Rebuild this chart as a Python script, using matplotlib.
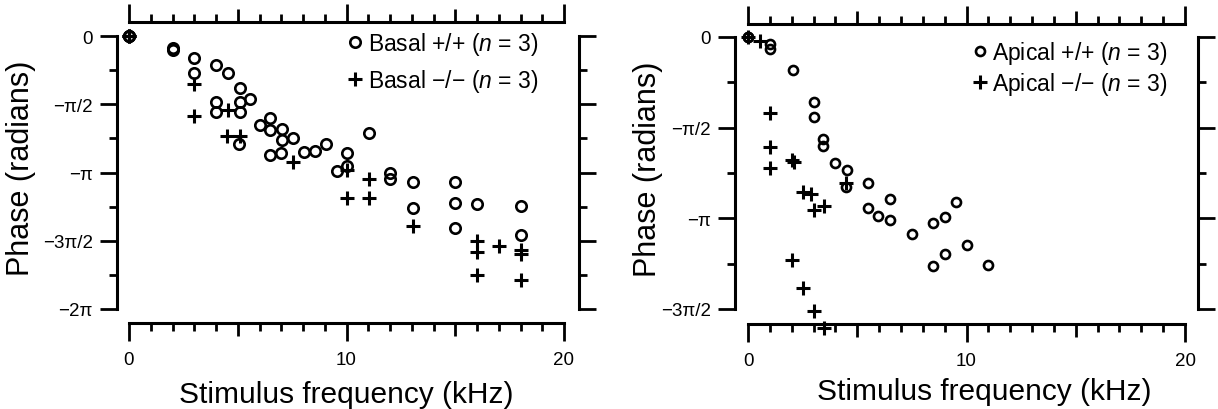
import numpy as np
import matplotlib
matplotlib.use("Agg")
import matplotlib.pyplot as plt
from matplotlib.lines import Line2D

plt.rcParams['font.family'] = ['Liberation Sans', 'DejaVu Sans']
plt.rcParams['mathtext.fontset'] = 'custom'
plt.rcParams['mathtext.rm'] = 'Liberation Sans'
plt.rcParams['mathtext.it'] = 'Liberation Sans:italic'

# phase values are in units of pi
basal_wt_freq = [0, 0, 0, 2.0, 2.0, 3.0, 3.0, 4.0, 4.55, 5.1, 4.0, 4.0, 5.1, 5.1, 5.55,
                 5.05, 6.0, 6.5, 6.5, 7.05, 7.05, 7.55, 6.5, 7.0, 8.05, 8.55, 9.05,
                 10.0, 9.55, 10.0, 11.05, 12.0, 12.0, 13.05, 13.05, 15.0, 15.0, 15.0,
                 16.0, 18.0, 18.0]
basal_wt_phase = [0, 0, 0, -0.09, -0.10, -0.16, -0.27, -0.21, -0.27, -0.38, -0.48, -0.56,
                  -0.48, -0.56, -0.46, -0.79, -0.65, -0.60, -0.69, -0.68, -0.76, -0.745,
                  -0.87, -0.86, -0.85, -0.84, -0.79, -0.855, -0.99, -0.955, -0.71,
                  -1.005, -1.05, -1.07, -1.26, -1.07, -1.22, -1.41, -1.23, -1.245, -1.46]
basal_ko_freq = [0, 0, 0, 3.0, 3.0, 4.55, 4.5, 5.1, 7.55, 10.0, 10.0, 11.05, 11.05, 13.05,
                 16.0, 16.0, 16.0, 17.0, 18.0, 18.0, 18.0]
basal_ko_phase = [0, 0, 0, -0.35, -0.585, -0.54, -0.735, -0.735, -0.92, -0.985, -1.19,
                  -1.05, -1.19, -1.395, -1.505, -1.585, -1.75, -1.535, -1.565, -1.60, -1.79]

apical_wt_freq = [0, 0, 1.0, 1.0, 2.05, 3.0, 3.0, 3.45, 3.45, 4.0, 4.55, 4.5, 5.5, 5.5,
                  5.95, 6.5, 6.5, 7.5, 8.45, 9.0, 9.5, 8.45, 9.0, 10.0, 11.0]
apical_wt_phase = [0, 0, -0.04, -0.065, -0.18, -0.36, -0.44, -0.565, -0.60, -0.695, -0.735,
                   -0.825, -0.805, -0.945, -0.985, -0.895, -1.01, -1.085, -1.025, -0.99,
                   -0.91, -1.265, -1.195, -1.145, -1.26]
apical_ko_freq = [0, 0.55, 1.0, 1.0, 1.0, 2.0, 2.1, 2.5, 2.9, 3.0, 3.5, 4.5, 2.0, 2.5, 3.0, 3.5]
apical_ko_phase = [0, -0.02, -0.42, -0.605, -0.725, -0.68, -0.69, -0.855, -0.865, -0.955,
                   -0.93, -0.805, -1.23, -1.385, -1.51, -1.605]

left_yticks = [0, -0.5, -1.0, -1.5, -2.0]
left_ylabels = ['0', '\u2212\u03c0/2', '\u2212\u03c0', '\u22123\u03c0/2', '\u22122\u03c0']
right_yticks = [0, -0.5, -1.0, -1.5]
right_ylabels = ['0', '\u2212\u03c0/2', '\u2212\u03c0', '\u22123\u03c0/2']
xticks = [0, 5, 10, 15, 20]
xticklabels = ['0', '', '10', '', '20']

W, H = 1218, 410
PT = 72 / 100  # points per pixel


def make_axes(fig, x0, x1, y0, y1):
    return fig.add_axes([x0 / W, 1 - y1 / H, (x1 - x0) / W, (y1 - y0) / H])


def style_axes(ax, ymin, yticks, ylabels, offsets):
    ax.set_xlim(0, 20)
    ax.set_ylim(ymin * np.pi, 0)
    for side, off in zip(['left', 'right', 'top', 'bottom'], offsets):
        ax.spines[side].set_position(('outward', off * PT))
        ax.spines[side].set_linewidth(2.2)
    ax.set_xticks(xticks)
    ax.set_xticklabels(xticklabels)
    ax.set_xticks(np.arange(0, 21, 1), minor=True)
    ax.set_yticks(np.array(yticks) * np.pi)
    ax.set_yticklabels(ylabels)
    ax.set_yticks(np.arange(0, ymin - 0.01, -0.25) * np.pi, minor=True)
    ax.tick_params(which='both', direction='out', width=2, top=True, right=True,
                   labeltop=False, labelright=False)
    ax.tick_params(which='major', length=12.5, labelsize=13.5, pad=5)
    ax.tick_params(which='minor', length=6)
    ax.tick_params(axis='x', which='major', length=13, pad=7)
    for tick in ax.xaxis.get_major_ticks():
        if tick.get_loc() in (5, 15):
            tick.tick1line.set_markersize(9.5)
            tick.tick2line.set_markersize(9.5)


def draw(ax, wt_f, wt_p, ko_f, ko_p, ms_o, labels, anchor, spacing):
    ax.plot(wt_f, np.array(wt_p) * np.pi, 'o', ms=ms_o, mfc='none', mec='black',
            mew=1.9, clip_on=False, zorder=3)
    ax.plot(ko_f, np.array(ko_p) * np.pi, '+', ms=10, mec='black', mew=2.2,
            clip_on=False, zorder=3)
    handles = [Line2D([], [], ls='none', marker='o', ms=ms_o, mfc='none', mec='black', mew=1.9),
               Line2D([], [], ls='none', marker='+', ms=10, mec='black', mew=2.2)]
    ax.legend(handles, labels, loc='upper right', bbox_to_anchor=anchor, frameon=False,
              fontsize=16.5, handlelength=0.7, handletextpad=0.2, labelspacing=spacing,
              borderpad=0, borderaxespad=0)


fig = plt.figure(figsize=(W / 100, H / 100), dpi=100)

ax1 = make_axes(fig, 129, 564, 37, 310)
style_axes(ax1, -2.0, left_yticks, left_ylabels, [12, 15, 14, 14])
draw(ax1, basal_wt_freq, basal_wt_phase, basal_ko_freq, basal_ko_phase, 7.5,
     ['Basal +/+ ($n$ = 3)', 'Basal \u2212/\u2212 ($n$ = 3)'], (0.94, 1.022), 0.42)
ax1.set_xlabel('Stimulus frequency (kHz)', fontsize=21.5, va='center')
ax1.xaxis.set_label_coords(0.5, -0.31)
ax1.set_ylabel('Phase (radians)', fontsize=22, va='center')
ax1.yaxis.set_label_coords(-0.248, 0.52)

ax2 = make_axes(fig, 748, 1185, 38, 310)
style_axes(ax2, -1.5, right_yticks, right_ylabels, [13, 13, 13, 15])
draw(ax2, apical_wt_freq, apical_wt_phase, apical_ko_freq, apical_ko_phase, 6.5,
     ['Apical +/+ ($n$ = 3)', 'Apical \u2212/\u2212 ($n$ = 3)'], (0.96, 0.993), 0.2)
ax2.set_xlabel('Stimulus frequency (kHz)', fontsize=21.5, va='center')
ax2.xaxis.set_label_coords(0.54, -0.3)
ax2.set_ylabel('Phase (radians)', fontsize=22, va='center')
ax2.yaxis.set_label_coords(-0.229, 0.518)

fig.savefig('out.png', dpi=100)
